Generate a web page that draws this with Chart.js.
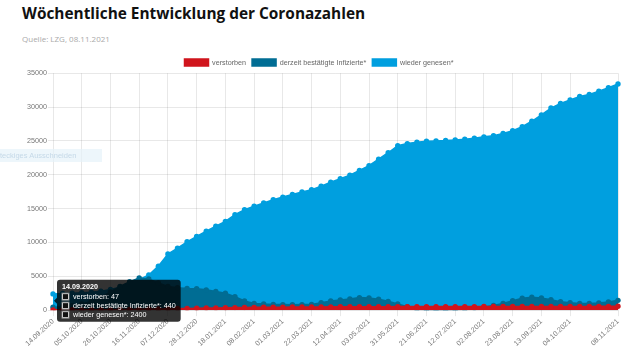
<!DOCTYPE html>
<html>
<head>
<meta charset="utf-8">
<script src="https://cdn.jsdelivr.net/npm/chart.js@4/dist/chart.umd.min.js"></script>
<style>
  html, body { margin: 0; padding: 0; background: #fff; width: 640px; height: 357px; overflow: hidden; }
  #title { position: absolute; left: 22px; top: 3px; font-family: "Open Sans", sans-serif; font-weight: 700; font-size: 15.4px; line-height: 22px; color: #111; white-space: nowrap; }
  #sub { position: absolute; left: 22px; top: 33px; font-family: "Open Sans", sans-serif; font-size: 8px; line-height: 12px; color: #aaa; white-space: nowrap; }
  #snip { position: absolute; left: 0; top: 149px; width: 102px; height: 13px; background: rgba(230,242,250,0.7); font-family: "Liberation Sans", Arial, sans-serif; font-size: 7.5px; line-height: 13px; color: #c5d9e8; white-space: nowrap; overflow: hidden; }
  #wrap { position: absolute; left: 0; top: 50px; width: 640px; height: 307px; }
</style>
</head>
<body>
<div id="title">Wöchentliche Entwicklung der Coronazahlen</div>
<div id="sub">Quelle: LZG, 08.11.2021</div>
<div id="wrap"><canvas id="c"></canvas></div>
<div id="snip">teckiges Ausschneiden</div>
<script>
const dates = [
  "14.09.2020","21.09.2020","28.09.2020","05.10.2020","12.10.2020","19.10.2020","26.10.2020","02.11.2020","09.11.2020","16.11.2020",
  "23.11.2020","30.11.2020","07.12.2020","14.12.2020","21.12.2020","28.12.2020","04.01.2021","11.01.2021","18.01.2021","25.01.2021",
  "01.02.2021","08.02.2021","15.02.2021","22.02.2021","01.03.2021","08.03.2021","15.03.2021","22.03.2021","29.03.2021","05.04.2021",
  "12.04.2021","19.04.2021","26.04.2021","03.05.2021","10.05.2021","17.05.2021","31.05.2021","07.06.2021","14.06.2021","21.06.2021",
  "28.06.2021","05.07.2021","12.07.2021","19.07.2021","26.07.2021","02.08.2021","09.08.2021","16.08.2021","23.08.2021","30.08.2021",
  "06.09.2021","13.09.2021","20.09.2021","27.09.2021","04.10.2021","11.10.2021","18.10.2021","25.10.2021","01.11.2021","08.11.2021"
];
const verstorben = [
  47,49,51,54,58,64,75,90,110,135,
  160,185,210,235,260,285,310,335,360,380,
  400,415,425,435,445,455,462,470,478,486,
  495,502,508,513,517,520,522,523,524,525,
  525,526,526,527,527,528,529,530,532,534,
  537,540,543,546,549,552,555,558,561,565
];
const infizierte = [
  440,520,650,900,1300,1900,2700,3500,4200,4750,
  4600,4000,3500,3300,3200,3150,3000,2750,2500,2000,
  1350,1000,900,850,820,800,820,850,1100,1350,
  1500,1650,1850,1800,1600,1300,900,500,150,50,
  30,30,60,150,300,450,700,1000,1400,1750,
  1900,1800,1550,1250,1100,1000,1000,1050,1200,1450
];
const genesen = [
  2400,2450,2500,2560,2650,2800,3050,3400,3900,4500,
  5200,6500,8300,9150,10100,10900,11650,12400,13100,14100,
  14850,15350,15850,16300,16700,17100,17450,17800,18300,18900,
  19400,19950,20650,21350,22300,23250,24300,24600,24800,24950,
  25000,25050,25150,25250,25400,25600,25750,26100,26500,27100,
  27900,28850,29850,30550,31050,31550,31850,32350,32850,33400
];
const seriesNames = ["verstorben", "derzeit bestätigte Infizierte*", "wieder genesen*"];
const yTicks = [0, 5000, 10000, 15000, 20000, 25000, 30000, 35000];

const colRed = "#d0151c", colDark = "#006d94", colLight = "#009fdf";
const FONT = "'Liberation Sans', Arial, sans-serif";
const shown = i => (i % 3 === 0 && i < dates.length - 3) || i === dates.length - 1;

function ds(label, data, color) {
  return {
    label, data,
    borderColor: color, backgroundColor: color,
    pointBackgroundColor: color, pointBorderColor: color,
    pointRadius: 2.7, pointBorderWidth: 0, borderWidth: 1.5,
    fill: 'origin', tension: 0
  };
}

Chart.Tooltip.positioners.avgUp = function (elements) {
  const pos = Chart.Tooltip.positioners.average.call(this, elements);
  return pos ? { x: pos.x, y: pos.y - 3 } : false;
};

const legendShift = {
  id: 'legendShift',
  afterLayout(chart) {
    const l = chart.legend;
    if (!l) return;
    l.left += 10; l.right += 10;
    l.top += 3; l.bottom += 3;
  }
};

const chart = new Chart(document.getElementById('c'), {
  type: 'line',
  plugins: [legendShift],
  data: {
    labels: dates,
    datasets: [
      ds(seriesNames[0], verstorben, colRed),
      ds(seriesNames[1], infizierte, colDark),
      ds(seriesNames[2], genesen, colLight)
    ]
  },
  options: {
    responsive: true, maintainAspectRatio: false, animation: false, devicePixelRatio: 1,
    events: [],
    layout: { padding: { left: 0, right: 22, top: 0, bottom: 8 } },
    plugins: {
      legend: {
        position: 'top',
        labels: { font: { family: FONT, size: 7.2 }, color: '#666', boxWidth: 24, boxHeight: 7, padding: 6 }
      },
      tooltip: {
        enabled: true,
        mode: 'index', intersect: false,
        position: 'avgUp',
        backgroundColor: 'rgba(0,0,0,0.8)',
        titleFont: { family: FONT, size: 7.2, weight: 'bold', lineHeight: 1.25 },
        bodyFont: { family: FONT, size: 7.2, lineHeight: 1.25 },
        titleColor: '#fff', bodyColor: '#fff',
        padding: { left: 5, right: 5, top: 2.5, bottom: 2.5 },
        titleMarginBottom: 1, bodySpacing: 0,
        boxWidth: 7, boxHeight: 7, boxPadding: 2,
        caretSize: 3, caretPadding: 1, cornerRadius: 3,
        xAlign: 'left', yAlign: 'center',
        callbacks: {
          label: c => c.dataset.label + ': ' + c.raw,
          labelColor: () => ({ borderColor: 'rgba(140,140,140,0.9)', backgroundColor: '#111', borderWidth: 1 })
        }
      }
    },
    scales: {
      x: {
        grid: {
          color: c => shown(c.index) ? 'rgba(0,0,0,0.09)' : 'rgba(0,0,0,0)',
          tickLength: 6
        },
        border: { display: false },
        ticks: {
          autoSkip: false, maxRotation: 43, minRotation: 43, padding: 1,
          font: { family: FONT, size: 7.2 }, color: '#777',
          callback: function (v, i) { return shown(i) ? dates[i] : ''; }
        }
      },
      y: {
        min: 0, max: 35000,
        afterFit: s => { s.width = 53; },
        afterBuildTicks: s => { s.ticks = yTicks.map(v => ({ value: v })); },
        grid: { color: 'rgba(0,0,0,0.09)', tickLength: 5 },
        border: { display: false },
        ticks: { font: { family: FONT, size: 7.2 }, color: '#777', padding: 1, callback: v => String(v) }
      }
    }
  }
});

const p = chart.getDatasetMeta(2).data[0];
chart.tooltip.setActiveElements(
  [{ datasetIndex: 0, index: 0 }, { datasetIndex: 1, index: 0 }, { datasetIndex: 2, index: 0 }],
  { x: p.x, y: p.y }
);
chart.update('none');
</script>
</body>
</html>
